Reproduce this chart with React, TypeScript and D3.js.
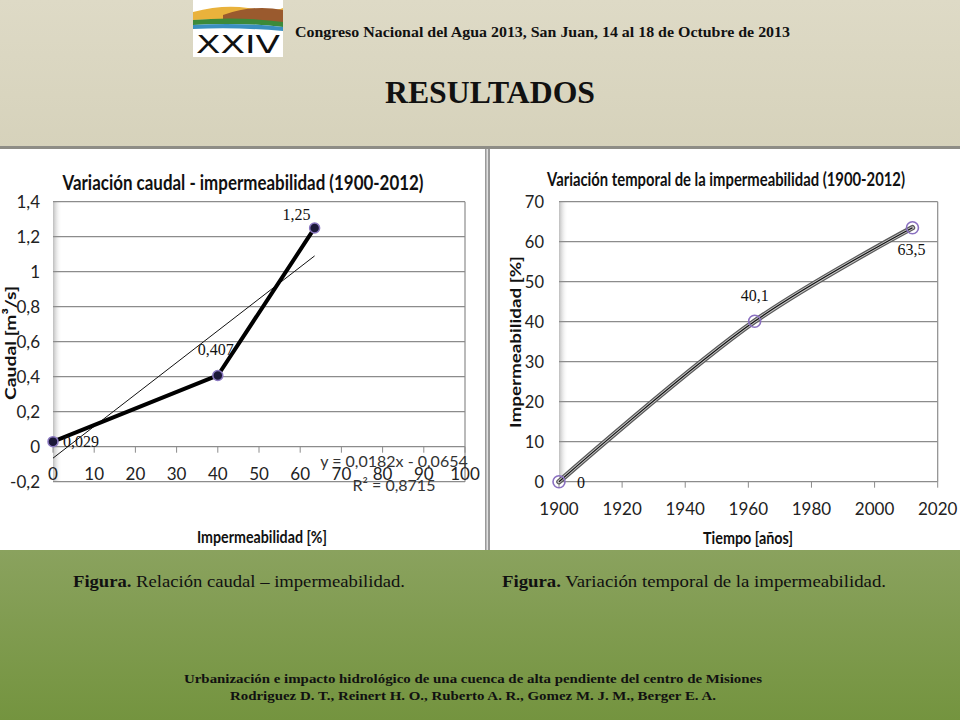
import React from 'react';
import * as d3 from 'd3';

// Gráfico 1: caudal vs impermeabilidad
const impPct = [0, 40, 63.5];
const caudal = [0.029, 0.407, 1.25];
const caudalLabels = ['0,029', '0,407', '1,25'];
const trend = { slope: 0.0182, intercept: -0.0654 };
const leftYTicks = [-0.2, 0, 0.2, 0.4, 0.6, 0.8, 1, 1.2, 1.4];
const leftXTicks = [0, 10, 20, 30, 40, 50, 60, 70, 80, 90, 100];

// Gráfico 2: impermeabilidad en el tiempo
const years = [1900, 1962, 2012];
const impTime = [0, 40.1, 63.5];
const impLabels = ['0', '40,1', '63,5'];
const rightYTicks = [0, 10, 20, 30, 40, 50, 60, 70];
const rightXTicks = [1900, 1920, 1940, 1960, 1980, 2000, 2020];

const sans = 'Lato, "Open Sans", sans-serif';
const serif = '"Liberation Serif", "DejaVu Serif", serif';
const fmt = (v: number) => String(v).replace('.', ',');

const LeftChart: React.FC = () => {
  const x = d3.scaleLinear().domain([0, 100]).range([53, 465]);
  const y = d3.scaleLinear().domain([-0.2, 1.4]).range([481.7, 201.7]);
  const line = d3.line<number>().x((_, i) => x(impPct[i])).y(d => y(d));
  const trendX = [0, d3.max(impPct) || 0];
  const labelPos = [
    { dx: 10, dy: 5, anchor: 'start' },
    { dx: -2, dy: -20, anchor: 'middle' },
    { dx: -18, dy: -8, anchor: 'middle' },
  ];
  return (
    <g>
      <defs>
        <linearGradient id="wallL" x1="0" x2="1" y1="0" y2="0">
          <stop offset="0" stopColor="#bdbdbd" />
          <stop offset="1" stopColor="#ffffff" stopOpacity="0" />
        </linearGradient>
      </defs>
      <rect x={x(0)} y={y(1.4)} width={9} height={y(-0.2) - y(1.4)} fill="url(#wallL)" />
      {leftYTicks.map(t => (
        <line key={t} x1={x(0)} x2={x(100)} y1={y(t)} y2={y(t)} stroke="#8c8c8c" strokeWidth={1.2} />
      ))}
      <line x1={x(100)} x2={x(100)} y1={y(1.4)} y2={y(-0.2)} stroke="#8c8c8c" strokeWidth={1.2} />
      {leftXTicks.map(t => (
        <line key={t} x1={x(t)} x2={x(t)} y1={y(0)} y2={y(0) + 6} stroke="#8c8c8c" />
      ))}
      {leftYTicks.map(t => (
        <text key={t} x={40} y={y(t) + 6} textAnchor="end" fontFamily={sans} fontSize={17} fill="#222">
          {fmt(t)}
        </text>
      ))}
      {leftXTicks.map(t => (
        <text key={t} x={x(t)} y={480} textAnchor="middle" fontFamily={sans} fontSize={17} fill="#222">
          {t}
        </text>
      ))}
      <line
        x1={x(trendX[0])} y1={y(trend.slope * trendX[0] + trend.intercept)}
        x2={x(trendX[1])} y2={y(trend.slope * trendX[1] + trend.intercept)}
        stroke="#111" strokeWidth={1}
      />
      <path d={line(caudal) || ''} fill="none" stroke="#000" strokeWidth={4} strokeLinejoin="round" />
      {caudal.map((v, i) => (
        <circle key={i} cx={x(impPct[i])} cy={y(v)} r={5} fill="#1b1838" stroke="#8a78c0" strokeWidth={1.5} />
      ))}
      {caudal.map((v, i) => (
        <text key={i} x={x(impPct[i]) + labelPos[i].dx} y={y(v) + labelPos[i].dy}
          textAnchor={labelPos[i].anchor} fontFamily={serif} fontSize={16} fill="#111">
          {caudalLabels[i]}
        </text>
      ))}
      <text x={394} y={467} textAnchor="middle" fontFamily={sans} fontSize={16} fill="#333">
        y = 0,0182x - 0,0654
      </text>
      <text x={394} y={491} textAnchor="middle" fontFamily={sans} fontSize={16} fill="#333">
        R² = 0,8715
      </text>
      <text x={243} y={190} textAnchor="middle" fontFamily={sans} fontSize={21} fontWeight="bold" fill="#111"
        textLength={361} lengthAdjust="spacingAndGlyphs">
        Variación caudal - impermeabilidad (1900-2012)
      </text>
      <text transform="translate(16,343) rotate(-90)" textAnchor="middle" fontFamily={sans} fontSize={16}
        fontWeight="bold" fill="#111" textLength={114} lengthAdjust="spacingAndGlyphs">
        Caudal [m³/s]
      </text>
      <text x={262} y={543} textAnchor="middle" fontFamily={sans} fontSize={17} fontWeight="bold" fill="#111"
        textLength={130} lengthAdjust="spacingAndGlyphs">
        Impermeabilidad [%]
      </text>
    </g>
  );
};

const RightChart: React.FC = () => {
  const x = d3.scaleLinear().domain([1900, 2020]).range([559, 937.7]);
  const y = d3.scaleLinear().domain([0, 70]).range([481.7, 201.7]);
  const line = d3.line<number>().x((_, i) => x(years[i])).y(d => y(d)).curve(d3.curveCatmullRom.alpha(0.5));
  const path = line(impTime) || '';
  const labelPos = [
    { dx: 22, dy: 6 },
    { dx: 0, dy: -20 },
    { dx: -1, dy: 27 },
  ];
  return (
    <g>
      <defs>
        <linearGradient id="wallR" x1="0" x2="1" y1="0" y2="0">
          <stop offset="0" stopColor="#bdbdbd" />
          <stop offset="1" stopColor="#ffffff" stopOpacity="0" />
        </linearGradient>
      </defs>
      <rect x={x(1900)} y={y(70)} width={9} height={y(0) - y(70)} fill="url(#wallR)" />
      {rightYTicks.map(t => (
        <line key={t} x1={x(1900)} x2={x(2020)} y1={y(t)} y2={y(t)} stroke="#8c8c8c" strokeWidth={1.2} />
      ))}
      <line x1={x(2020)} x2={x(2020)} y1={y(70)} y2={y(0)} stroke="#8c8c8c" strokeWidth={1.2} />
      {rightXTicks.map(t => (
        <line key={t} x1={x(t)} x2={x(t)} y1={y(0)} y2={y(0) + 6} stroke="#8c8c8c" />
      ))}
      {rightYTicks.map(t => (
        <text key={t} x={544} y={y(t) + 6} textAnchor="end" fontFamily={sans} fontSize={16.5} fill="#222">
          {t}
        </text>
      ))}
      {rightXTicks.map(t => (
        <text key={t} x={x(t)} y={515} textAnchor="middle" fontFamily={sans} fontSize={17} fill="#222">
          {t}
        </text>
      ))}
      <path d={path} fill="none" stroke="#5a5a5a" strokeWidth={5.5} strokeLinecap="round" />
      <path d={path} fill="none" stroke="#c8c8c8" strokeWidth={3} strokeLinecap="round" />
      <path d={path} fill="none" stroke="#111" strokeWidth={1.2} />
      {impTime.map((v, i) => (
        <circle key={i} cx={x(years[i])} cy={y(v)} r={6} fill="none" stroke="#8a70c0" strokeWidth={1.6} />
      ))}
      {impTime.map((v, i) => (
        <text key={i} x={x(years[i]) + labelPos[i].dx} y={y(v) + labelPos[i].dy}
          textAnchor="middle" fontFamily={serif} fontSize={16} fill="#111">
          {impLabels[i]}
        </text>
      ))}
      <text x={726} y={186} textAnchor="middle" fontFamily={sans} fontSize={19} fontWeight="bold" fill="#111"
        textLength={358} lengthAdjust="spacingAndGlyphs">
        Variación temporal de la impermeabilidad (1900-2012)
      </text>
      <text transform="translate(521,342) rotate(-90)" textAnchor="middle" fontFamily={sans} fontSize={15.5}
        fontWeight="bold" fill="#111" textLength={172} lengthAdjust="spacingAndGlyphs">
        Impermeabilidad [%]
      </text>
      <text x={748} y={544} textAnchor="middle" fontFamily={sans} fontSize={17} fontWeight="bold" fill="#111"
        textLength={90} lengthAdjust="spacingAndGlyphs">
        Tiempo [años]
      </text>
    </g>
  );
};

const Logo: React.FC = () => (
  <g transform="translate(193,0)">
    <rect width={90} height={57} fill="#ffffff" />
    <path d="M0,12 Q30,4 55,8 T90,8 L90,22 Q50,18 0,20 Z" fill="#e9b23c" />
    <path d="M30,15 Q60,4 90,10 L90,24 Q60,20 30,20 Z" fill="#9a5a2e" />
    <path d="M0,20 Q45,16 90,22 L90,27 Q45,22 0,25 Z" fill="#3c8a3a" />
    <path d="M0,25 Q45,22 90,27 L90,31 Q45,27 0,29 Z" fill="#3a8fc0" />
    <text x={45} y={53} textAnchor="middle" fontFamily="DejaVu Sans, sans-serif" fontSize={24} fill="#111"
      textLength={84} lengthAdjust="spacingAndGlyphs">
      XXIV
    </text>
  </g>
);

export default function App() {
  return (
    <svg width={960} height={720} style={{ position: 'absolute', left: 0, top: 0 }}>
      <defs>
        <linearGradient id="topBg" x1="0" x2="0" y1="0" y2="1">
          <stop offset="0" stopColor="#dedac6" />
          <stop offset="1" stopColor="#d6d2bb" />
        </linearGradient>
        <linearGradient id="botBg" x1="0" x2="0" y1="0" y2="1">
          <stop offset="0" stopColor="#8aa25e" />
          <stop offset="1" stopColor="#74943f" />
        </linearGradient>
      </defs>
      <rect width={960} height={150} fill="url(#topBg)" />
      <rect y={146} width={960} height={3} fill="#8e8d86" />
      <rect y={149} width={960} height={401} fill="#ffffff" />
      <rect x={485} y={149} width={5} height={401} fill="#9a9a9a" />
      <rect x={486.5} y={149} width={1.5} height={401} fill="#e0e0e0" />
      <rect y={550} width={960} height={170} fill="url(#botBg)" />

      <Logo />
      <text x={295} y={37} fontFamily={serif} fontSize={14.5} fontWeight="bold" fill="#111"
        textLength={495} lengthAdjust="spacingAndGlyphs">
        Congreso Nacional del Agua 2013, San Juan, 14 al 18 de Octubre de 2013
      </text>
      <text x={490} y={103} textAnchor="middle" fontFamily={serif} fontSize={31} fontWeight="bold" fill="#111"
        textLength={210} lengthAdjust="spacingAndGlyphs">
        RESULTADOS
      </text>

      <LeftChart />
      <RightChart />

      <text x={73} y={587} fontFamily={serif} fontSize={16} fill="#111" textLength={332} lengthAdjust="spacingAndGlyphs">
        <tspan fontWeight="bold">Figura.</tspan> Relación caudal – impermeabilidad.
      </text>
      <text x={502} y={587} fontFamily={serif} fontSize={16} fill="#111" textLength={384} lengthAdjust="spacingAndGlyphs">
        <tspan fontWeight="bold">Figura.</tspan> Variación temporal de la impermeabilidad.
      </text>
      <text x={473} y={683} textAnchor="middle" fontFamily={serif} fontSize={13} fontWeight="bold" fill="#111"
        textLength={578} lengthAdjust="spacingAndGlyphs">
        Urbanización e impacto hidrológico  de una cuenca de alta pendiente del centro de Misiones
      </text>
      <text x={473} y={700} textAnchor="middle" fontFamily={serif} fontSize={13} fontWeight="bold" fill="#111"
        textLength={486} lengthAdjust="spacingAndGlyphs">
        Rodriguez D. T., Reinert H. O., Ruberto A. R., Gomez M. J. M.,  Berger E. A.
      </text>
    </svg>
  );
}
